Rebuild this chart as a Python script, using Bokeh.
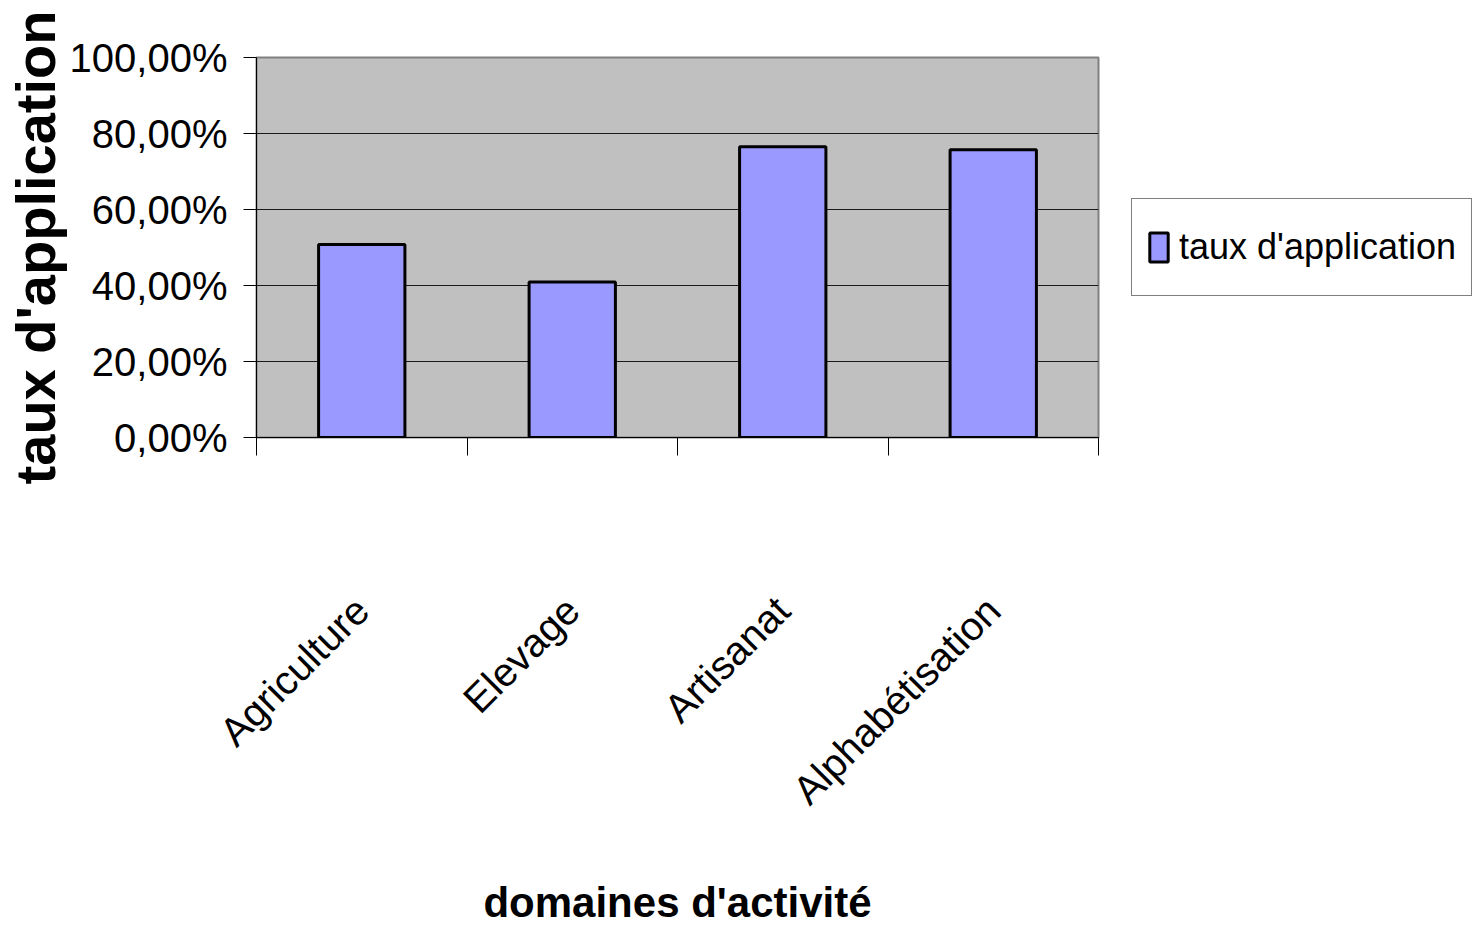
from bokeh.plotting import figure
from bokeh.models import (Range1d, LinearAxis, FixedTicker,
                          CustomJSTickFormatter, Legend, LegendItem, ColumnDataSource)
from bokeh.embed import file_html
from bokeh.resources import INLINE
import math

categories = ["Agriculture", "Elevage", "Artisanat", "Alphabétisation"]
taux = [50.8, 40.9, 76.5, 75.7]
y_ticks = [0, 20, 40, 60, 80, 100]
series_name = "taux d'application"
x_title = "domaines d'activité"
y_title = "taux d'application"

FONT = "Liberation Sans"

n = len(categories)
centers = [i + 0.5 for i in range(n)]

p = figure(x_range=Range1d(0, n), y_range=Range1d(0, 100),
           frame_width=842, frame_height=380, output_backend="svg", toolbar_location=None,
           x_axis_location=None, y_axis_location="left",
           min_border_left=250, min_border_right=373, min_border_top=57, min_border_bottom=485,
           background_fill_color="#C0C0C0", border_fill_color="white")

src = ColumnDataSource(dict(x=centers, cat=categories, top=taux))
r = p.vbar(x="x", top="top", width=0.41, source=src, fill_color="#9999FF",
           line_color="black", line_width=3)

p.outline_line_color = "#808080"
p.outline_line_width = 2

p.xgrid.grid_line_color = None
p.ygrid.grid_line_color = "#1a1a1a"
p.ygrid.grid_line_width = 1
p.ygrid.ticker = FixedTicker(ticks=y_ticks)

yax = p.yaxis[0]
yax.ticker = FixedTicker(ticks=y_ticks)
yax.formatter = CustomJSTickFormatter(code="return tick.toFixed(2).replace('.', ',') + '%';")
yax.axis_line_color = "black"
yax.axis_line_width = 1
yax.major_tick_out = 13
yax.major_tick_in = 0
yax.minor_tick_line_color = None
yax.major_label_text_font = FONT
yax.major_label_text_font_size = "40px"
yax.major_label_text_color = "black"
yax.major_label_standoff = 16
yax.axis_label = y_title
yax.axis_label_text_font = FONT
yax.axis_label_text_font_style = "bold"
yax.axis_label_text_font_size = "56px"
yax.axis_label_text_color = "black"
yax.axis_label_standoff = 0

# boundary ticks axis (nearest to frame)
bounds = list(range(n + 1))
bax = LinearAxis(ticker=FixedTicker(ticks=bounds))
bax.major_label_overrides = {b: "" for b in bounds}
bax.major_label_text_font_size = "1px"
bax.major_label_standoff = 0
bax.major_tick_out = 18
bax.major_tick_in = 0
bax.minor_tick_line_color = None
bax.axis_line_color = "black"
bax.axis_line_width = 1
p.add_layout(bax, "below")

cax = LinearAxis(ticker=FixedTicker(ticks=centers))
cax.major_label_overrides = {c: lab for c, lab in zip(centers, categories)}
cax.axis_line_color = None
cax.major_tick_line_color = None
cax.minor_tick_line_color = None
cax.major_label_orientation = math.pi / 4
cax.major_label_text_font = FONT
cax.major_label_text_font_size = "40px"
cax.major_label_text_color = "black"
cax.major_label_standoff = 142
cax.axis_label = x_title
cax.axis_label_text_font = FONT
cax.axis_label_text_font_style = "bold"
cax.axis_label_text_font_size = "42px"
cax.axis_label_text_color = "black"
cax.axis_label_standoff = 48
p.add_layout(cax, "below")

legend = Legend(items=[LegendItem(label=series_name, renderers=[r])],
                location=(33, 141), border_line_color="black", border_line_width=1,
                background_fill_color="white", label_text_font=FONT,
                label_text_font_size="36px", label_text_color="black",
                glyph_width=23, glyph_height=36, label_height=66, label_standoff=9,
                padding=15, margin=0)
p.add_layout(legend, "right")

open("out.html", "w").write(file_html(p, INLINE))
